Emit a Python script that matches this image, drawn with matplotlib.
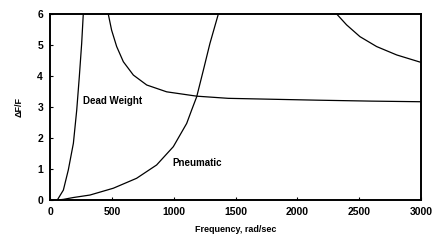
import matplotlib.pyplot as plt

# curves
dead_x = [59, 108, 148, 189, 216, 237, 256, 269]
dead_y = [0.0, 0.32, 0.97, 1.83, 2.9, 3.98, 5.05, 6.0]

pneu_x = [60, 108, 189, 323, 512, 700, 862, 997, 1105, 1145, 1186, 1240, 1293, 1361]
pneu_y = [0.0, 0.02, 0.08, 0.16, 0.38, 0.7, 1.13, 1.72, 2.47, 2.9, 3.33, 4.19, 5.05, 6.0]

mid_x = [471, 498, 539, 593, 674, 782, 943, 1186, 1441, 1800, 2167, 2600, 3000]
mid_y = [6.0, 5.48, 4.95, 4.46, 4.03, 3.71, 3.49, 3.35, 3.28, 3.25, 3.22, 3.19, 3.17]

upper_x = [2318, 2398, 2506, 2641, 2803, 2983, 3000]
upper_y = [6.0, 5.65, 5.27, 4.95, 4.68, 4.46, 4.44]

plt.rcParams['font.family'] = ['Liberation Sans', 'DejaVu Sans']
plt.rcParams['font.weight'] = 'bold'

fig = plt.figure(figsize=(4.36, 2.46), dpi=100)
ax = fig.add_axes([0.1147, 0.187, 0.851, 0.756])

for xs, ys in [(dead_x, dead_y), (pneu_x, pneu_y), (mid_x, mid_y), (upper_x, upper_y)]:
    ax.plot(xs, ys, color='black', lw=0.9, solid_joinstyle='round')

ax.text(267, 3.19, 'Dead Weight', fontsize=7, fontweight='bold', va='center')
ax.text(993, 1.19, 'Pneumatic', fontsize=7, fontweight='bold', va='center')

ax.set_xlim(0, 3000)
ax.set_ylim(0, 6)
ax.set_xticks([0, 500, 1000, 1500, 2000, 2500, 3000])
ax.set_yticks([0, 1, 2, 3, 4, 5, 6])
ax.tick_params(direction='in', length=2, labelsize=7.5, pad=5)
for lab in ax.get_xticklabels() + ax.get_yticklabels():
    lab.set_fontweight('bold')
for s in ax.spines.values():
    s.set_linewidth(1.4)

ax.set_xlabel('Frequency, rad/sec', fontsize=6.5, fontweight='bold', labelpad=6)
ax.set_ylabel('ΔF/F', fontsize=6.5, fontweight='bold', labelpad=10)

fig.savefig('out.png', dpi=100)
